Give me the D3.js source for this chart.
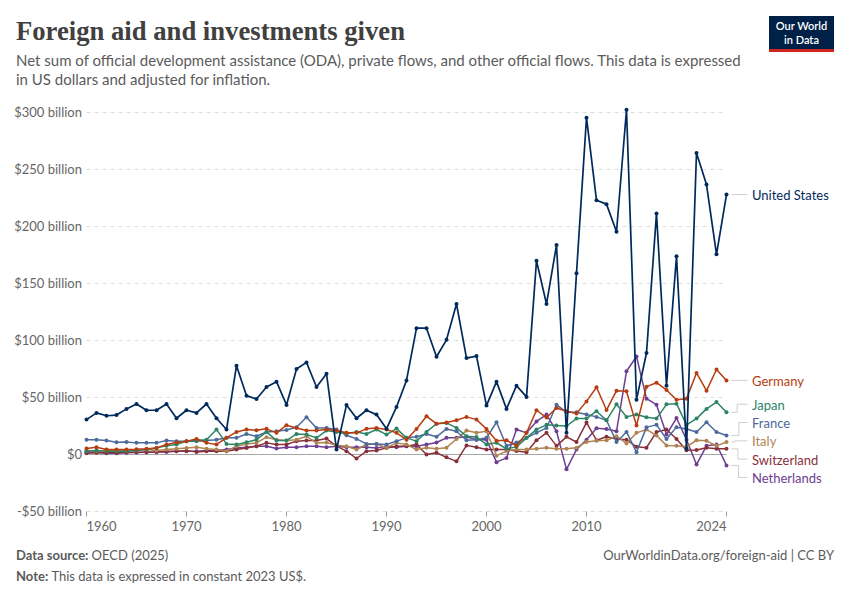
<!DOCTYPE html>
<html>
<head>
<meta charset="utf-8">
<script src="https://cdn.jsdelivr.net/npm/d3@7"></script>
<style>
  body { margin: 0; background: #fff; }
  text { font-family: Lato, "Noto Sans", sans-serif; }
</style>
</head>
<body>
<div id="chart"></div>
<script>
// Years 1960..2024
const years = d3.range(1960, 2025);

// values in billions of constant 2023 US$
const unitedStates = [30.6, 36.5, 34, 34.6, 40, 44.3, 38.8, 38.8, 44.3, 31.8,
  38.8, 36.5, 44.3, 31.8, 21.9, 77.9, 51.6, 48.7, 59.2, 63.9,
  43.5, 75, 80.8, 59.2, 70.9, 4.4, 43.5, 31.8, 38.8, 35,
  22.5, 41.7, 65, 110.8, 110.8, 85.7, 100.6, 132, 84.6, 86.3,
  42.9, 63.9, 40, 60.4, 50.5, 170, 132, 183.7, 19, 159,
  295.5, 223, 219.6, 195.4, 302.4, 48.1, 89, 211.5, 60.4, 174,
  5, 264.5, 236.8, 175.6, 228];
const germany = [5.2, 6.4, 4.4, 4.4, 4.4, 4.6, 5, 5.8, 8.8, 10.5,
  11.7, 13.7, 10.2, 8.8, 14.6, 19.8, 21.9, 21.3, 22.5, 19,
  25.7, 23.3, 21, 21, 21.9, 21, 19, 19, 22.5, 23.3,
  21.9, 19, 13, 22.4, 33.5, 27, 28, 30, 33, 30.6,
  22.4, 12, 12.5, 7.6, 19, 38.8, 32.4, 40.8, 38, 36,
  46.6, 59, 39, 56, 55.5, 25.4, 59.5, 63, 56.6, 48,
  49, 71.5, 56, 74.6, 65];
const japan = [2.9, 3.5, 2.9, 2.9, 2.9, 3.5, 4.4, 5.8, 7.6, 8.8,
  11.7, 12.5, 13, 22, 9.3, 8.8, 10.8, 13, 19.8, 12.2,
  12.2, 18, 17.5, 14.6, 21, 19.8, 18.4, 19.8, 18, 21.9,
  17.5, 22.7, 14.6, 11.7, 19.8, 27, 27.7, 23.3, 16, 15.3,
  8.8, 10.3, 5, 6.7, 14.6, 22, 26, 25.4, 25, 31.5,
  31.5, 38, 30, 44, 33, 35, 32.7, 31.5, 44, 44.6,
  26, 31.5, 40, 46, 37];
const france = [13, 13, 12.2, 10.8, 11, 10.2, 10.2, 10.2, 12.2, 11.7,
  11.7, 11.7, 12.2, 13, 14.6, 14.6, 18, 16, 19.8, 20.4,
  21.5, 23.9, 32.7, 23.3, 23.3, 21.9, 16.9, 13.7, 9.3, 9.3,
  8.8, 11.7, 14.6, 15.5, 18, 15.5, 22.4, 20.4, 12.5, 13,
  14.6, 28.3, 7.6, 10.5, 14.6, 19, 23.3, 43.7, 37, 37,
  35, 33, 30, 11, 19.8, 2, 24, 26, 13.6, 24,
  22.4, 19.8, 28.3, 19.8, 16.6];
const italy = [3.5, 3, 3, 3.5, 3.5, 4, 4.4, 3.5, 4.4, 5,
  5.8, 6.4, 5, 4.4, 2.9, 7.3, 9.3, 10.2, 15.2, 13,
  12.2, 13, 16, 10.2, 10.5, 8.2, 7.3, 4.4, 8.8, 9.3,
  5.8, 10.2, 8.8, 4.4, 6, 5, 6, 13.6, 21, 19,
  20.4, -1, 3, 4.4, 4.4, 5, 6, 5, 5, 6,
  11, 12, 12.5, 16, 9.7, 19, 22, 16.6, 8, 7.6,
  6.7, 12.5, 12, 7.6, 11];
const switzerland = [1, 1.5, 1.5, 1.5, 2, 2, 2, 2.3, 2.9, 2.9,
  3.2, 2.3, 2.9, 2.9, 2.9, 4.4, 5.8, 7.3, 10.2, 8.8,
  8.8, 11.7, 12.2, 12.2, 14, 7.3, 2.9, -3.5, 2.9, 3.5,
  5.8, 7.3, 7.3, 8.8, 0, 1.5, -2.5, -6, 8, 6.4,
  4.4, 4.4, 4.4, 3, 2, 12.5, 19, 7.6, 15.5, 11,
  28, 12.5, 15.5, 13.6, 13, 6.7, 6, 19.8, 22, 13.6,
  3.8, 4, 6, 5, 5];
const netherlands = [2.3, 2, 1.2, 1.2, 1.5, 1.8, 2, 2.3, 2.3, 2.9,
  2.9, 2.9, 3.5, 3.5, 4.4, 5.8, 6.4, 7.3, 7.3, 5.2,
  6.4, 6.4, 7.3, 7.3, 6.4, 7.3, 6.4, 6.4, 6.4, 5.8,
  7.3, 6.4, 7.3, 7.3, 8.8, 10.5, 14.6, 14.6, 15.5, 13,
  13, -6.7, -3, 21.9, 19, 29, 35, 20.4, -13, 4.4,
  13, 23, 22.4, 20.4, 73, 86, 49, 43.7, 17.5, 32,
  13, -8.8, 7.6, 8.8, -9.6];

const seriesNames = ["United States", "Germany", "Japan", "France", "Italy", "Switzerland", "Netherlands"];
const seriesValues = [unitedStates, germany, japan, france, italy, switzerland, netherlands];
const seriesColors = ["#002a5c", "#b53d10", "#2c8465", "#4c6a9c", "#b08452", "#883039", "#6d3e91"];

const yTicks = [-50, 0, 50, 100, 150, 200, 250, 300];
const xTicks = [1960, 1970, 1980, 1990, 2000, 2010, 2024];

const width = 850, height = 600;
const margin = {left: 86.5, right: 123.5, top: 112.5, bottom: 88.5};

const svg = d3.select('#chart')
  .append('svg')
  .attr('width', width)
  .attr('height', height);

const x = d3.scaleLinear()
  .domain([1960, 2024])
  .range([margin.left, width - margin.right]);

const y = d3.scaleLinear()
  .domain([-50, 300])
  .range([height - margin.bottom, margin.top]);

// header
svg.append('text')
  .attr('x', 16).attr('y', 40)
  .attr('textLength', 389).attr('lengthAdjust', 'spacingAndGlyphs')
  .style('font-family', '"Liberation Serif", "DejaVu Serif", serif')
  .style('font-weight', 'bold')
  .style('font-size', '27px')
  .attr('fill', '#404040')
  .text('Foreign aid and investments given');

const subtitle = [
  'Net sum of official development assistance (ODA), private flows, and other official flows. This data is expressed',
  'in US dollars and adjusted for inflation.'
];
svg.selectAll('.subtitle')
  .data(subtitle)
  .enter().append('text')
  .attr('class', 'subtitle')
  .attr('x', 16)
  .attr('y', (d, i) => 66 + i * 19)
  .style('font-size', '15px')
  .attr('fill', '#5b5b5b')
  .text(d => d);

// logo
const logo = svg.append('g').attr('transform', 'translate(769,16)');
logo.append('rect').attr('width', 65).attr('height', 36).attr('fill', '#002147');
logo.append('rect').attr('y', 33).attr('width', 65).attr('height', 3).attr('fill', '#ce261e');
logo.selectAll('.logo-text')
  .data(['Our World', 'in Data'])
  .enter().append('text')
  .attr('x', 32.5)
  .attr('y', (d, i) => 14 + i * 13.5)
  .attr('text-anchor', 'middle')
  .style('font-size', '11px')
  .style('font-weight', '600')
  .attr('fill', '#fff')
  .text(d => d);

// grid
svg.append('g')
  .selectAll('line')
  .data(yTicks.filter(d => d !== 0))
  .enter().append('line')
  .attr('x1', x(1960)).attr('x2', x(2024))
  .attr('y1', d => y(d)).attr('y2', d => y(d))
  .attr('stroke', '#dddddd')
  .attr('stroke-dasharray', '4,4');

svg.append('line')
  .attr('x1', x(1960)).attr('x2', x(2024))
  .attr('y1', y(0)).attr('y2', y(0))
  .attr('stroke', '#a6a6a6');

svg.append('g')
  .selectAll('text')
  .data(yTicks)
  .enter().append('text')
  .attr('x', 82)
  .attr('y', d => y(d) + 4.5)
  .attr('text-anchor', 'end')
  .style('font-size', '13px')
  .attr('fill', '#666')
  .text(d => d === 0 ? '$0' : (d < 0 ? '-$' + Math.abs(d) : '$' + d) + ' billion');

// x axis ticks and labels
const xAxis = svg.append('g');
xAxis.selectAll('line')
  .data(xTicks)
  .enter().append('line')
  .attr('x1', d => x(d)).attr('x2', d => x(d))
  .attr('y1', y(-50)).attr('y2', y(-50) + 5)
  .attr('stroke', '#999');
xAxis.selectAll('text')
  .data(xTicks)
  .enter().append('text')
  .attr('x', d => x(d))
  .attr('y', y(-50) + 19)
  .attr('text-anchor', (d, i) => i === 0 ? 'start' : (i === xTicks.length - 1 ? 'end' : 'middle'))
  .style('font-size', '13px')
  .attr('fill', '#666')
  .text(d => d);

// lines
const line = d3.line()
  .x((d, i) => x(years[i]))
  .y(d => y(d));

const order = d3.range(seriesNames.length).reverse();
order.forEach(s => {
  const g = svg.append('g');
  g.append('path')
    .datum(seriesValues[s])
    .attr('d', line)
    .attr('fill', 'none')
    .attr('stroke', seriesColors[s])
    .attr('stroke-width', s === 0 ? 1.7 : 1.5)
    .attr('stroke-linejoin', 'round');
  g.selectAll('circle')
    .data(seriesValues[s])
    .enter().append('circle')
    .attr('cx', (d, i) => x(years[i]))
    .attr('cy', d => y(d))
    .attr('r', 2)
    .attr('fill', seriesColors[s]);
});

// end labels with simple overlap resolution
const gap = 18.3;
let labels = seriesNames.map((name, i) => ({
  name, color: seriesColors[i],
  target: y(seriesValues[i][seriesValues[i].length - 1])
})).sort((a, b) => a.target - b.target);

let groups = labels.map(l => ({items: [l], center: l.target}));
let merged = true;
while (merged) {
  merged = false;
  for (let i = 0; i < groups.length - 1; i++) {
    const a = groups[i], b = groups[i + 1];
    const aBottom = a.center + (a.items.length - 1) * gap / 2;
    const bTop = b.center - (b.items.length - 1) * gap / 2;
    if (bTop - aBottom < gap) {
      const items = a.items.concat(b.items);
      groups.splice(i, 2, {items, center: d3.mean(items, d => d.target)});
      merged = true;
      break;
    }
  }
}
groups.forEach(g => {
  g.items.forEach((l, k) => { l.y = g.center + (k - (g.items.length - 1) / 2) * gap; });
});

const lx = x(2024);
labels.forEach((l, k) => {
  const elbow = lx + 8 + (l.y === l.target ? 0 : Math.min(8, Math.abs(l.y - l.target) / 3));
  svg.append('path')
    .attr('d', `M${lx + 5},${l.target}H${elbow}V${l.y}H${lx + 21}`)
    .attr('fill', 'none')
    .attr('stroke', '#cfcfcf')
    .attr('stroke-width', 1);
  svg.append('text')
    .attr('x', lx + 25.5)
    .attr('y', l.y + 5.5)
    .style('font-size', '13px')
    .attr('fill', l.color)
    .text(l.name);
});

// footer
const src = svg.append('text').attr('x', 16).attr('y', 560)
  .style('font-size', '13px').attr('fill', '#5b5b5b');
src.append('tspan').style('font-weight', 'bold').text('Data source: ');
src.append('tspan').text('OECD (2025)');

svg.append('text').attr('x', 834).attr('y', 560)
  .attr('text-anchor', 'end')
  .style('font-size', '13px').attr('fill', '#5b5b5b')
  .text('OurWorldinData.org/foreign-aid | CC BY');

const note = svg.append('text').attr('x', 16).attr('y', 581)
  .style('font-size', '13px').attr('fill', '#5b5b5b');
note.append('tspan').style('font-weight', 'bold').text('Note: ');
note.append('tspan').text('This data is expressed in constant 2023 US$.');
</script>
</body>
</html>
